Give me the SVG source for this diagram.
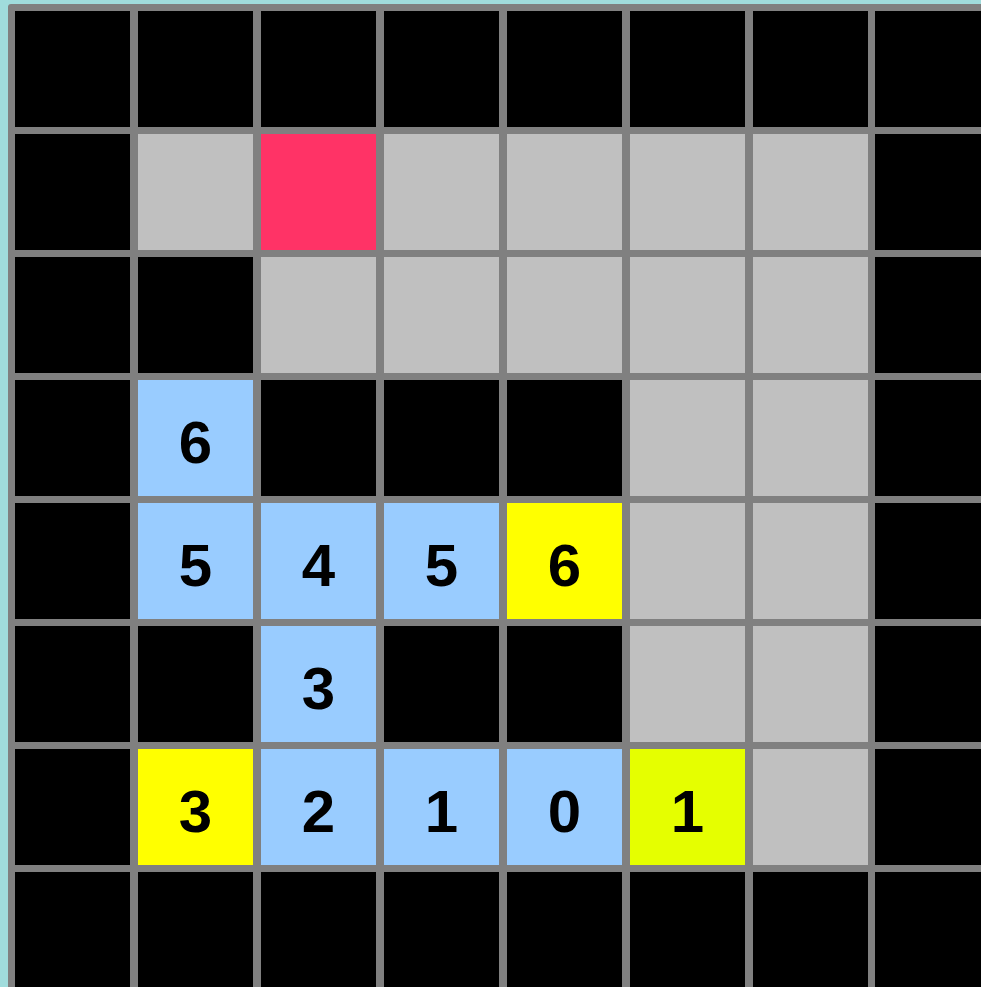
<svg xmlns="http://www.w3.org/2000/svg" width="981" height="987" viewBox="0 0 981 987">
<style>
.k{fill:#000000}
.g{fill:#c0c0c0}
.r{fill:#ff3366}
.b{fill:#99ccff}
.y{fill:#ffff00}
.l{fill:#e5ff00}
text{font-family:"Liberation Sans",Arial,sans-serif;font-weight:bold;font-size:60px;text-anchor:middle;fill:#000000}
</style>
<rect x="0" y="0" width="981" height="987" fill="#a0dcdc"/>
<rect x="8" y="4" width="1000" height="1000" rx="3" fill="#808080"/>
<g id="row0">
<rect class="k" x="15" y="11" width="115" height="116"/>
<rect class="k" x="138" y="11" width="115" height="116"/>
<rect class="k" x="261" y="11" width="115" height="116"/>
<rect class="k" x="384" y="11" width="115" height="116"/>
<rect class="k" x="507" y="11" width="115" height="116"/>
<rect class="k" x="630" y="11" width="115" height="116"/>
<rect class="k" x="753" y="11" width="115" height="116"/>
<rect class="k" x="875" y="11" width="115" height="116"/>
</g>
<g id="row1">
<rect class="k" x="15" y="134" width="115" height="116"/>
<rect class="g" x="138" y="134" width="115" height="116"/>
<rect id="target" class="r" x="261" y="134" width="115" height="116"/>
<rect class="g" x="384" y="134" width="115" height="116"/>
<rect class="g" x="507" y="134" width="115" height="116"/>
<rect class="g" x="630" y="134" width="115" height="116"/>
<rect class="g" x="753" y="134" width="115" height="116"/>
<rect class="k" x="875" y="134" width="115" height="116"/>
</g>
<g id="row2">
<rect class="k" x="15" y="257" width="115" height="116"/>
<rect class="k" x="138" y="257" width="115" height="116"/>
<rect class="g" x="261" y="257" width="115" height="116"/>
<rect class="g" x="384" y="257" width="115" height="116"/>
<rect class="g" x="507" y="257" width="115" height="116"/>
<rect class="g" x="630" y="257" width="115" height="116"/>
<rect class="g" x="753" y="257" width="115" height="116"/>
<rect class="k" x="875" y="257" width="115" height="116"/>
</g>
<g id="row3">
<rect class="k" x="15" y="380" width="115" height="116"/>
<g id="c1-3"><rect class="b" x="138" y="380" width="115" height="116"/><text x="195.5" y="463">6</text></g>
<rect class="k" x="261" y="380" width="115" height="116"/>
<rect class="k" x="384" y="380" width="115" height="116"/>
<rect class="k" x="507" y="380" width="115" height="116"/>
<rect class="g" x="630" y="380" width="115" height="116"/>
<rect class="g" x="753" y="380" width="115" height="116"/>
<rect class="k" x="875" y="380" width="115" height="116"/>
</g>
<g id="row4">
<rect class="k" x="15" y="503" width="115" height="116"/>
<g id="c1-4"><rect class="b" x="138" y="503" width="115" height="116"/><text x="195.5" y="586">5</text></g>
<g id="c2-4"><rect class="b" x="261" y="503" width="115" height="116"/><text x="318.5" y="586">4</text></g>
<g id="c3-4"><rect class="b" x="384" y="503" width="115" height="116"/><text x="441.5" y="586">5</text></g>
<g id="c4-4"><rect class="y" x="507" y="503" width="115" height="116"/><text x="564.5" y="586">6</text></g>
<rect class="g" x="630" y="503" width="115" height="116"/>
<rect class="g" x="753" y="503" width="115" height="116"/>
<rect class="k" x="875" y="503" width="115" height="116"/>
</g>
<g id="row5">
<rect class="k" x="15" y="626" width="115" height="116"/>
<rect class="k" x="138" y="626" width="115" height="116"/>
<g id="c2-5"><rect class="b" x="261" y="626" width="115" height="116"/><text x="318.5" y="709">3</text></g>
<rect class="k" x="384" y="626" width="115" height="116"/>
<rect class="k" x="507" y="626" width="115" height="116"/>
<rect class="g" x="630" y="626" width="115" height="116"/>
<rect class="g" x="753" y="626" width="115" height="116"/>
<rect class="k" x="875" y="626" width="115" height="116"/>
</g>
<g id="row6">
<rect class="k" x="15" y="749" width="115" height="116"/>
<g id="c1-6"><rect class="y" x="138" y="749" width="115" height="116"/><text x="195.5" y="832">3</text></g>
<g id="c2-6"><rect class="b" x="261" y="749" width="115" height="116"/><text x="318.5" y="832">2</text></g>
<g id="c3-6"><rect class="b" x="384" y="749" width="115" height="116"/><text x="441.5" y="832">1</text></g>
<g id="c4-6"><rect class="b" x="507" y="749" width="115" height="116"/><text x="564.5" y="832">0</text></g>
<g id="c5-6"><rect class="l" x="630" y="749" width="115" height="116"/><text x="687.5" y="832">1</text></g>
<rect class="g" x="753" y="749" width="115" height="116"/>
<rect class="k" x="875" y="749" width="115" height="116"/>
</g>
<g id="row7">
<rect class="k" x="15" y="872" width="115" height="120"/>
<rect class="k" x="138" y="872" width="115" height="120"/>
<rect class="k" x="261" y="872" width="115" height="120"/>
<rect class="k" x="384" y="872" width="115" height="120"/>
<rect class="k" x="507" y="872" width="115" height="120"/>
<rect class="k" x="630" y="872" width="115" height="120"/>
<rect class="k" x="753" y="872" width="115" height="120"/>
<rect class="k" x="875" y="872" width="115" height="120"/>
</g>
<g id="connectors"/>
</svg>
